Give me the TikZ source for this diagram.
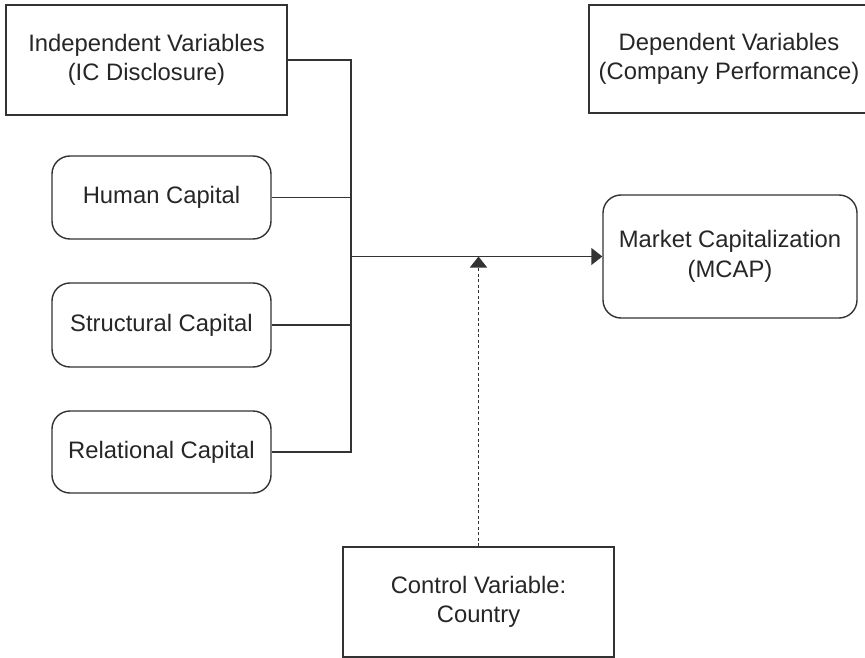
\documentclass[tikz,border=0pt]{standalone}
\usepackage{fontspec}
\setmainfont{Liberation Sans}
\usetikzlibrary{arrows.meta}
\definecolor{ink}{HTML}{262626}
\definecolor{edge}{HTML}{333333}
\tikzset{
  box/.style={draw=edge, line width=1.4pt, rectangle, inner sep=0pt, align=center,
    text=ink, font=\fontsize{23.8}{29.5}\selectfont},
  rbox/.style={box, rounded corners=18pt},
  wire/.style={draw=edge, line width=1.4pt},
  tip/.style={-{Triangle[length=11pt,width=17pt]}},
  dotline/.style={draw=edge, line width=1.4pt, dash pattern=on 3pt off 2.5pt}
}
\begin{document}
\begin{tikzpicture}[x=1pt,y=-1pt]
\useasboundingbox (0,0) rectangle (865,658);
\node[box, minimum width=281pt, minimum height=110pt] (ind) at (146.5,60) {Independent Variables\\(IC Disclosure)};
\node[box, minimum width=280pt, minimum height=108pt] (dep) at (729,59) {Dependent Variables\\(Company Performance)};
\node[rbox, minimum width=219pt, minimum height=83pt] (hum) at (161.5,197.5) {Human Capital};
\node[rbox, minimum width=219pt, minimum height=84pt] (str) at (161.5,325) {Structural Capital};
\node[rbox, minimum width=219pt, minimum height=82pt] (rel) at (161.5,452) {Relational Capital};
\node[rbox, minimum width=254pt, minimum height=123pt] (mcap) at (730,256.5) {Market Capitalization\\(MCAP)};
\node[box, minimum width=271pt, minimum height=110pt] (ctl) at (478.5,602) {Control Variable:\\Country};
\coordinate (jt) at (351,59);
\draw[wire] (ind.east) -- (ind.east -| jt) -- (rel.east -| jt) -- (rel.east);
\draw[wire] (hum.east) -- (hum.east -| jt);
\draw[wire] (str.east) -- (str.east -| jt);
\draw[wire, tip] (mcap.west -| jt) -- (mcap.west);
\draw[dotline, tip] (ctl.north) -- (ctl.north |- mcap.west);
\end{tikzpicture}
\end{document}
